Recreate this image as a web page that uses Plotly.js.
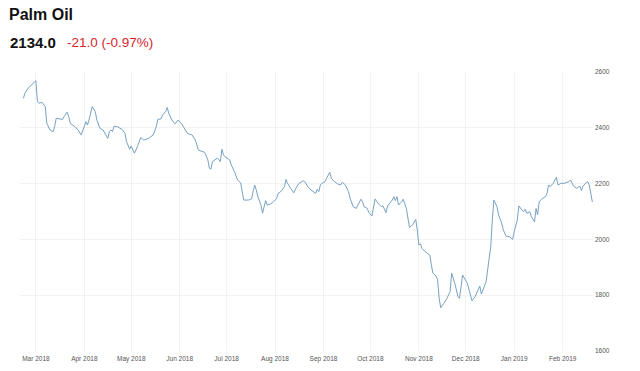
<!DOCTYPE html>
<html>
<head>
<meta charset="utf-8">
<script src="https://cdn.plot.ly/plotly-3.0.1.min.js"></script>
<style>html,body{margin:0;padding:0;background:#fff;}#chart{width:640px;height:371px;}</style>
</head>
<body>
<div id="chart"></div>
<script>
const dates = [
"2018-02-21","2018-02-22","2018-02-24","2018-02-26","2018-02-28","2018-03-01","2018-03-02","2018-03-03","2018-03-05","2018-03-07",
"2018-03-08","2018-03-10","2018-03-12","2018-03-13","2018-03-14","2018-03-16","2018-03-18","2018-03-19","2018-03-21","2018-03-22",
"2018-03-23","2018-03-26","2018-03-28","2018-03-30","2018-04-01","2018-04-02","2018-04-03","2018-04-04","2018-04-06","2018-04-08",
"2018-04-09","2018-04-11","2018-04-13","2018-04-14","2018-04-16","2018-04-17","2018-04-18","2018-04-19","2018-04-20","2018-04-22",
"2018-04-25","2018-04-27","2018-04-28","2018-04-30","2018-05-01","2018-05-03","2018-05-05","2018-05-07","2018-05-09","2018-05-12",
"2018-05-15","2018-05-17","2018-05-18","2018-05-20","2018-05-21","2018-05-23","2018-05-24","2018-05-25","2018-05-27","2018-05-29",
"2018-05-31","2018-06-02","2018-06-04","2018-06-06","2018-06-09","2018-06-11","2018-06-13","2018-06-15","2018-06-17","2018-06-19",
"2018-06-20","2018-06-21","2018-06-22","2018-06-25","2018-06-26","2018-06-27","2018-06-28","2018-06-29","2018-06-30","2018-07-03",
"2018-07-04","2018-07-06","2018-07-08","2018-07-10","2018-07-11","2018-07-12","2018-07-15","2018-07-17","2018-07-18","2018-07-19",
"2018-07-20","2018-07-21","2018-07-23","2018-07-24","2018-07-26","2018-07-27","2018-07-29","2018-07-31","2018-08-02","2018-08-03",
"2018-08-05","2018-08-07","2018-08-08","2018-08-09","2018-08-11","2018-08-13","2018-08-14","2018-08-16","2018-08-19","2018-08-20",
"2018-08-22","2018-08-24","2018-08-27","2018-08-28","2018-08-29","2018-08-30","2018-08-31","2018-09-02","2018-09-03","2018-09-05",
"2018-09-06","2018-09-08","2018-09-10","2018-09-12","2018-09-13","2018-09-15","2018-09-17","2018-09-18","2018-09-20","2018-09-22",
"2018-09-23","2018-09-25","2018-09-26","2018-09-27","2018-09-29","2018-09-30","2018-10-02","2018-10-04","2018-10-06","2018-10-08",
"2018-10-09","2018-10-11","2018-10-12","2018-10-15","2018-10-16","2018-10-17","2018-10-18","2018-10-19","2018-10-21","2018-10-22",
"2018-10-24","2018-10-25","2018-10-26","2018-10-28","2018-10-30","2018-10-31","2018-11-01","2018-11-02","2018-11-03","2018-11-05",
"2018-11-07","2018-11-08","2018-11-09","2018-11-10","2018-11-12","2018-11-13","2018-11-14","2018-11-15","2018-11-17","2018-11-19",
"2018-11-21","2018-11-22","2018-11-24","2018-11-26","2018-11-27","2018-11-29","2018-12-02","2018-12-04","2018-12-05","2018-12-07",
"2018-12-09","2018-12-10","2018-12-11","2018-12-13","2018-12-14","2018-12-15","2018-12-17","2018-12-18","2018-12-19","2018-12-21",
"2018-12-22","2018-12-24","2018-12-25","2018-12-27","2018-12-29","2018-12-31","2019-01-01","2019-01-03","2019-01-04","2019-01-06",
"2019-01-07","2019-01-08","2019-01-09","2019-01-11","2019-01-12","2019-01-14","2019-01-15","2019-01-16","2019-01-17","2019-01-19",
"2019-01-21","2019-01-22","2019-01-23","2019-01-24","2019-01-26","2019-01-27","2019-01-28","2019-01-29","2019-01-31","2019-02-02",
"2019-02-05","2019-02-06","2019-02-08","2019-02-10","2019-02-12","2019-02-13","2019-02-14","2019-02-16","2019-02-17","2019-02-18",
"2019-02-19","2019-02-20"
];
const prices = [
2506,2524,2542,2553,2562,2569,2494,2488,2491,2476,
2416,2392,2386,2404,2434,2432,2430,2440,2456,2440,
2416,2404,2392,2374,2410,2422,2410,2428,2476,2458,
2428,2398,2392,2380,2362,2386,2392,2386,2406,2404,
2395,2380,2350,2323,2335,2309,2333,2365,2356,2362,
2374,2404,2430,2432,2446,2458,2473,2452,2428,2414,
2428,2416,2398,2380,2374,2356,2320,2317,2312,2285,
2255,2252,2279,2291,2287,2279,2323,2303,2296,2285,
2267,2243,2213,2203,2175,2141,2141,2145,2173,2195,
2177,2153,2123,2094,2139,2123,2127,2135,2147,2165,
2173,2189,2215,2201,2183,2167,2180,2199,2210,2207,
2189,2177,2165,2180,2171,2195,2201,2207,2219,2241,
2219,2207,2199,2195,2205,2195,2171,2147,2117,2111,
2123,2144,2135,2117,2111,2096,2084,2145,2129,2117,
2120,2096,2120,2141,2153,2139,2153,2123,2135,2144,
2111,2076,2043,2052,2072,2034,1980,1984,1968,1956,
1948,1944,1908,1879,1869,1855,1789,1755,1771,1789,
1813,1879,1843,1795,1789,1872,1843,1807,1780,1795,
1819,1833,1804,1831,1848,1890,1974,2070,2141,2117,
2088,2058,2034,2010,2010,2000,2028,2070,2120,2105,
2099,2108,2094,2099,2081,2063,2111,2088,2135,2147,
2153,2165,2195,2189,2201,2213,2223,2195,2201,2201,
2207,2213,2191,2183,2191,2175,2191,2203,2207,2195,
2155,2134
];
const yTicks = [1600, 1800, 2000, 2200, 2400, 2600];
const titleText = "Palm Oil";
const lastPrice = "2134.0";
const changeText = "-21.0 (-0.97%)";

const trace = {
  x: dates, y: prices, type: 'scatter', mode: 'lines',
  line: {color: '#77a2c3', width: 1},
  hoverinfo: 'x+y'
};
const layout = {
  width: 640, height: 371,
  margin: {l: 20, r: 47, t: 72, b: 20, pad: 0},
  paper_bgcolor: '#fff', plot_bgcolor: '#fff',
  showlegend: false,
  font: {family: 'Liberation Sans, Arial, sans-serif', color: '#555'},
  title: {
    text: '<b>' + titleText + '</b>',
    x: 9/640, xref: 'container', xanchor: 'left',
    y: 1 - 14/371, yref: 'container', yanchor: 'middle',
    font: {size: 16, color: '#111', family: 'Liberation Sans, Arial, sans-serif'}
  },
  xaxis: {
    type: 'date',
    range: ['2018-02-18 20:00', '2019-02-20 10:00'],
    dtick: 'M1', tick0: '2018-03-01', tickformat: '%b %Y',
    showgrid: true, gridcolor: '#f2f2f2', gridwidth: 1,
    zeroline: false, showline: false, ticks: '',
    ticklabelstandoff: 2,
    tickfont: {size: 6.5, color: '#555'}
  },
  yaxis: {
    range: [1600, 2600], side: 'right',
    tickvals: yTicks, ticktext: yTicks.map(String),
    showgrid: true, gridcolor: '#f2f2f2', gridwidth: 1,
    zeroline: false, showline: false, ticks: '',
    ticklabelstandoff: 1,
    tickfont: {size: 6.5, color: '#555'}
  },
  annotations: [
    {text: '<b>' + lastPrice + '</b>', xref: 'paper', yref: 'paper',
     x: (8-20)/573, y: (351-42)/279, xanchor: 'left', yanchor: 'middle', showarrow: false,
     font: {size: 15, color: '#111', family: 'Liberation Sans, Arial, sans-serif'}},
    {text: changeText, xref: 'paper', yref: 'paper',
     x: (65-20)/573, y: (351-42)/279, xanchor: 'left', yanchor: 'middle', showarrow: false,
     font: {size: 13.5, color: '#d4262c', family: 'Liberation Sans, Arial, sans-serif'}}
  ]
};
Plotly.newPlot('chart', [trace], layout, {displayModeBar: false, staticPlot: true});
</script>
</body>
</html>
